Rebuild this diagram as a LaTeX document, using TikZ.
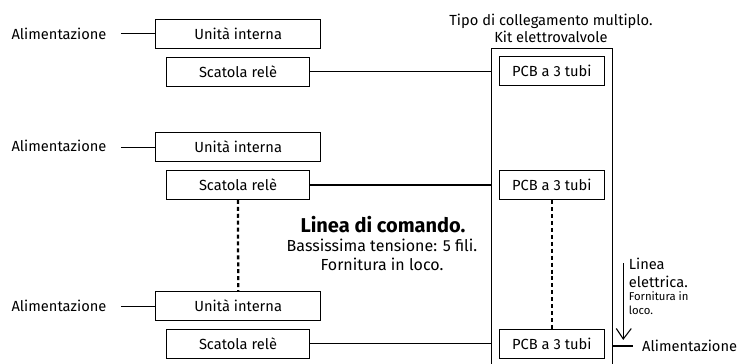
\documentclass[tikz,border=0pt]{standalone}
\usepackage{fontspec}
\setmainfont{Fira Sans}
\usetikzlibrary{arrows.meta}
\begin{document}
\begin{tikzpicture}[x=0.75pt,y=-0.75pt,line width=0.8pt,
  lbl/.style={inner sep=0pt,font=\fontsize{11}{13}\selectfont},
  unitbox/.style={draw,inner sep=0pt,minimum width=165*0.75pt,minimum height=29*0.75pt,font=\fontsize{11}{13}\selectfont},
  relebox/.style={draw,inner sep=0pt,minimum width=142.6*0.75pt,minimum height=28.7*0.75pt,font=\fontsize{11}{13}\selectfont},
  pcbbox/.style={draw,inner sep=0pt,minimum width=105*0.75pt,minimum height=29.3*0.75pt,font=\fontsize{11}{13}\selectfont},
  ctrl/.style={line width=1.7pt,dash pattern=on 3pt off 2.2pt},
  wire/.style={line width=0.8pt}]
\useasboundingbox (0,0) rectangle (751,364);
% kit frame (open at bottom)
\node[minimum width=119.7*0.75pt,minimum height=316.7*0.75pt,inner sep=0pt] (kit) at (551.85,207.65) {};
\draw[wire] (kit.south west) -- (kit.north west) -- (kit.north east) -- (kit.south east);
\node[lbl,align=center] (title) at (551,28.5) {Tipo di collegamento multiplo.\\Kit elettrovalvole};
% units
\node[unitbox] (ui1) at (238.2,33.7) {Unità interna};
\node[relebox] (sr1) at (238,71.7) {Scatola relè};
\node[unitbox] (ui2) at (238.2,147.2) {Unità interna};
\node[relebox] (sr2) at (238,185) {Scatola relè};
\node[unitbox] (ui3) at (238.2,306.2) {Unità interna};
\node[relebox] (sr3) at (238,343.7) {Scatola relè};
\node[pcbbox] (pcb1) at (551.8,71.3) {PCB a 3 tubi};
\node[pcbbox] (pcb2) at (551.8,185) {PCB a 3 tubi};
\node[pcbbox] (pcb3) at (551.8,344.2) {PCB a 3 tubi};
% power labels
\node[lbl,anchor=west] (al1) at (11,33.5) {Alimentazione};
\node[lbl,anchor=west] (al2) at (11,145.7) {Alimentazione};
\node[lbl,anchor=west] (al3) at (11,306) {Alimentazione};
\draw[wire] ([xshift=10.5pt]al1.east |- ui1.west) -- (ui1.west);
\draw[wire] ([xshift=10.5pt]al2.east |- ui2.west) -- (ui2.west);
\draw[wire] ([xshift=10.5pt]al3.east |- ui3.west) -- (ui3.west);
% relay to kit
\draw[wire] (sr1.east) -- (sr1.east -| kit.west);
\draw[wire] (sr2.east) -- (sr2.east -| kit.west);
\draw[wire] (sr3.east) -- (sr3.east -| kit.west);
% control lines
\draw[ctrl] (sr2.south) -- (ui3.north);
\draw[ctrl] (pcb2.south) -- (pcb3.north);
\node[inner sep=0pt,font=\bfseries\fontsize{15}{18}\selectfont] (lc1) at (383,225) {Linea di comando.};
\node[inner sep=0pt,font=\fontsize{12}{14}\selectfont,align=center] (lc2) at (382,255) {Bassissima tensione: 5 fili.\\Fornitura in loco.};
% right side power
\coordinate (arrtop) at (623.3,263);
\coordinate (arrtip) at (623.3,339);
\coordinate (barbl) at (616.3,328.5);
\coordinate (barbr) at (631.3,328.5);
\draw[wire] (arrtop) -- (arrtip);
\draw[wire,line join=miter] (barbl) -- (arrtip) -- (barbr);
\node[lbl,anchor=west] (alr) at (641.7,346) {Alimentazione};
\draw[wire] (kit.east |- alr.west) -- ([xshift=-6.5pt]alr.west);
\node[lbl,anchor=north west,align=left,font=\fontsize{11}{13.5}\selectfont] (le1) at (628.3,258) {Linea\\elettrica.};
\node[inner sep=0pt,anchor=north west,align=left,font=\fontsize{8.5}{10.5}\selectfont] (le2) at (628.3,291) {Fornitura in\\loco.};
\end{tikzpicture}
\end{document}
